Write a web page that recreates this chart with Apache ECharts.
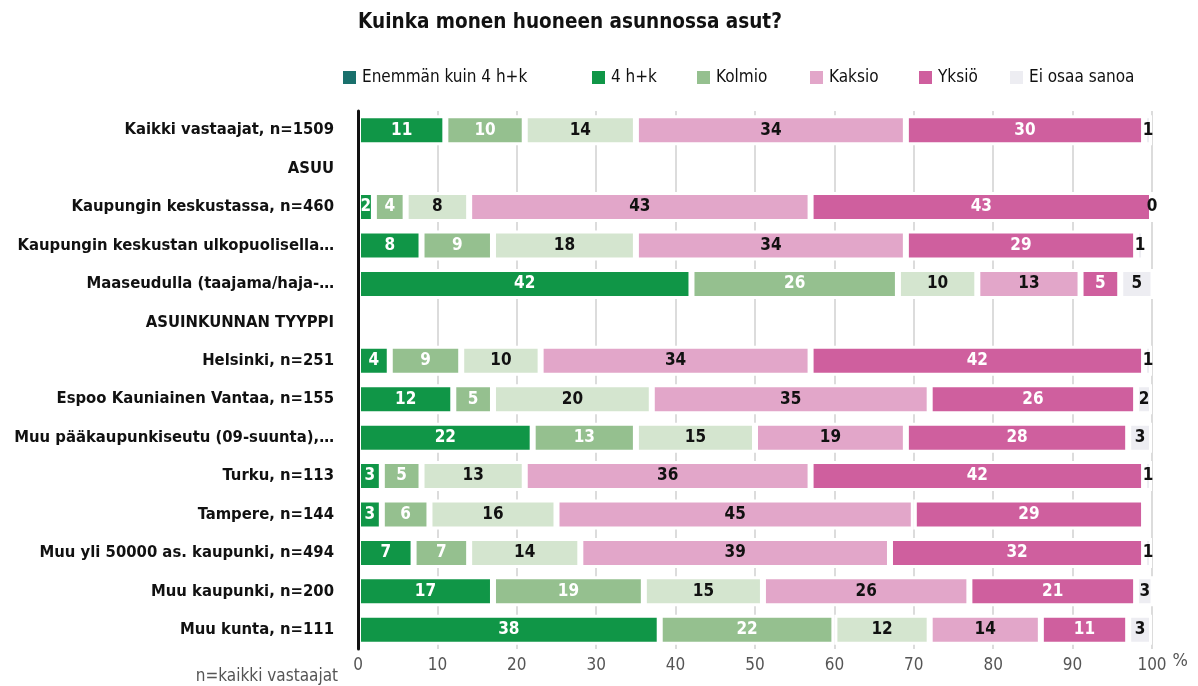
<!DOCTYPE html>
<html>
<head>
<meta charset="utf-8">
<title>Kuinka monen huoneen asunnossa asut?</title>
<script src="https://cdn.jsdelivr.net/npm/echarts@6/dist/echarts.min.js"></script>
<style>
  html, body { margin: 0; padding: 0; background: #fff; }
  #chart { width: 1198px; height: 686px; }
</style>
</head>
<body>
<div id="chart"></div>
<script>
const categories = [
  'Kaikki vastaajat, n=1509',
  'ASUU',
  'Kaupungin keskustassa, n=460',
  'Kaupungin keskustan ulkopuolisella…',
  'Maaseudulla (taajama/haja-…',
  'ASUINKUNNAN TYYPPI',
  'Helsinki, n=251',
  'Espoo Kauniainen Vantaa, n=155',
  'Muu pääkaupunkiseutu (09-suunta),…',
  'Turku, n=113',
  'Tampere, n=144',
  'Muu yli 50000 as. kaupunki, n=494',
  'Muu kaupunki, n=200',
  'Muu kunta, n=111'
];

const seriesNames = ['Enemmän kuin 4 h+k', '4 h+k', 'Kolmio', 'Kaksio', 'Yksiö', 'Ei osaa sanoa'];

// values per series, '-' for header rows
const yli4 = [11, '-', 2, 8, 42, '-', 4, 12, 22, 3, 3, 7, 17, 38];
const neljaHk = [10, '-', 4, 9, 26, '-', 9, 5, 13, 5, 6, 7, 19, 22];
const kolmio = [14, '-', 8, 18, 10, '-', 10, 20, 15, 13, 16, 14, 15, 12];
const kaksio = [34, '-', 43, 34, 13, '-', 34, 35, 19, 36, 45, 39, 26, 14];
const yksio = [30, '-', 43, 29, 5, '-', 42, 26, 28, 42, 29, 32, 21, 11];
const eos = [1, '-', 0, 1, 5, '-', 1, 2, 3, 1, '-', 1, 3, 3];

const xTicks = [0, 10, 20, 30, 40, 50, 60, 70, 80, 90, 100];

const barColors = ['#109647', '#95c08f', '#d4e5cf', '#e2a6c9', '#cf5f9e', '#ededf2'];
const legendColors = ['#19706c', '#109647', '#95c08f', '#e2a6c9', '#cf5f9e', '#ededf2'];
const labelColors = ['#fff', '#fff', '#111', '#111', '#fff', '#111'];
const legendLeft = [336, 585, 690, 803, 912, 1003];

const FONT = '"Liberation Sans Narrow", "DejaVu Sans Condensed", sans-serif';

const chart = echarts.init(document.getElementById('chart'));

const seriesData = [yli4, neljaHk, kolmio, kaksio, yksio, eos];

const series = seriesData.map((data, i) => ({
  name: seriesNames[i],
  type: 'bar',
  stack: 'total',
  barWidth: 30,
  data: data,
  itemStyle: {
    color: barColors[i],
    borderColor: '#fff',
    borderWidth: 3
  },
  emphasis: { disabled: true },
  label: {
    show: true,
    position: 'inside',
    color: labelColors[i],
    fontFamily: FONT,
    fontSize: 17,
    fontWeight: 'bold'
  }
}));

const legends = seriesNames.map((name, i) => ({
  left: legendLeft[i],
  top: 64,
  icon: 'rect',
  itemWidth: 15,
  itemHeight: 15,
  selectedMode: false,
  textStyle: { fontFamily: FONT, fontSize: 17, color: '#111' },
  data: [{ name: name, itemStyle: { color: legendColors[i] } }]
}));

chart.setOption({
  animation: false,
  title: {
    text: 'Kuinka monen huoneen asunnossa asut?',
    left: 565,
    textAlign: 'center',
    top: 7,
    textStyle: { fontFamily: FONT, fontSize: 20.5, fontWeight: 'bold', color: '#111' }
  },
  legend: legends,
  grid: { left: 358, right: 46, top: 111, bottom: 37 },
  xAxis: {
    type: 'value',
    min: xTicks[0],
    max: xTicks[xTicks.length - 1],
    interval: 10,
    name: '%',
    nameLocation: 'end',
    nameGap: 12,
    nameTextStyle: { fontFamily: FONT, fontSize: 18, color: '#555', verticalAlign: 'top', padding: [3, 0, 0, 0] },
    axisLine: { show: false },
    axisTick: { show: false },
    axisLabel: { fontFamily: FONT, fontSize: 17, color: '#555', margin: 8 },
    splitLine: { show: true, lineStyle: { color: '#dcdcdc', width: 2 } }
  },
  yAxis: {
    type: 'category',
    inverse: true,
    z: 5,
    data: categories,
    axisLine: { show: true, lineStyle: { color: '#111', width: 3 } },
    axisTick: { show: false },
    axisLabel: { fontFamily: FONT, fontSize: 16.5, fontWeight: 'bold', color: '#111', margin: 24 }
  },
  graphic: [{
    type: 'text',
    right: 1198 - 338,
    top: 668,
    style: { text: 'n=kaikki vastaajat', font: '17px ' + FONT, fill: '#555' }
  }],
  series: series
});
</script>
</body>
</html>
